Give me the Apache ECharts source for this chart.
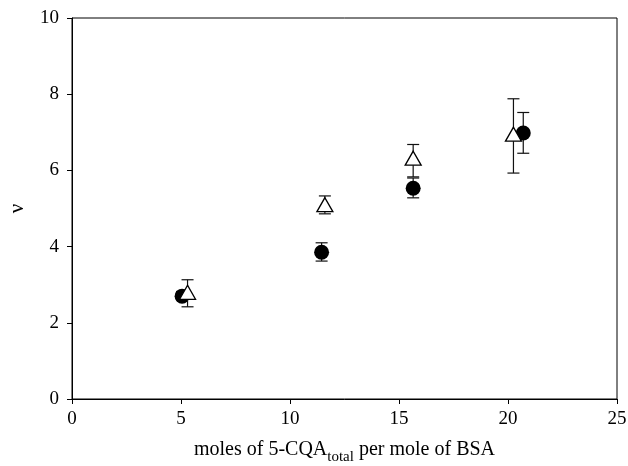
<!DOCTYPE html>
<html>
<head>
<meta charset="utf-8">
<script src="https://cdn.jsdelivr.net/npm/echarts@6/dist/echarts.min.js"></script>
<style>
  html, body { margin: 0; padding: 0; background: #fff; }
  #chart { width: 628px; height: 466px; }
</style>
</head>
<body>
<div id="chart"></div>
<script>
// filled circles
const circleX = [5.05, 11.45, 15.65, 20.7]
const circleY = [2.7, 3.85, 5.53, 6.98]
const circleLow = [2.6, 3.62, 5.28, 6.45]
const circleHigh = [2.82, 4.1, 5.8, 7.52]

// open triangles
const triX = [5.3, 11.6, 15.65, 20.25]
const triY = [2.8, 5.1, 6.32, 6.95]
const triLow = [2.42, 4.86, 5.83, 5.93]
const triHigh = [3.13, 5.33, 6.68, 7.88]

const xTicks = [0, 5, 10, 15, 20, 25]
const yTicks = [0, 2, 4, 6, 8, 10]

const font = 'Liberation Serif'

function errorBars(xs, lo, hi) {
  return {
    type: 'custom',
    data: xs.map((x, i) => [x, lo[i], hi[i]]),
    z: 1,
    renderItem: (params, api) => {
      const x = api.value(0)
      const pLo = api.coord([x, api.value(1)])
      const pHi = api.coord([x, api.value(2)])
      const w = 6
      const style = { stroke: '#111', lineWidth: 1.2 }
      return {
        type: 'group',
        children: [
          { type: 'line', shape: { x1: pLo[0], y1: pLo[1], x2: pHi[0], y2: pHi[1] }, style },
          { type: 'line', shape: { x1: pLo[0] - w, y1: pLo[1], x2: pLo[0] + w, y2: pLo[1] }, style },
          { type: 'line', shape: { x1: pHi[0] - w, y1: pHi[1], x2: pHi[0] + w, y2: pHi[1] }, style }
        ]
      }
    }
  }
}

const chart = echarts.init(document.getElementById('chart'))

chart.setOption({
  animation: false,
  backgroundColor: '#fff',
  grid: {
    left: 72, right: 11, top: 18, bottom: 67,
    containLabel: false,
    outerBoundsMode: 'none',
    show: true, borderColor: '#000', borderWidth: 1
  },
  xAxis: {
    type: 'value',
    min: xTicks[0], max: xTicks[xTicks.length - 1], interval: 5,
    name: '{a|moles of 5-CQA}{s|total}{a| per mole of BSA}',
    nameLocation: 'middle',
    nameGap: 41,
    nameTextStyle: {
      rich: {
        a: { fontFamily: font, fontSize: 20, color: '#000', verticalAlign: 'bottom' },
        s: { fontFamily: font, fontSize: 15, color: '#000', verticalAlign: 'bottom', padding: [0, 0, -5, 0] }
      }
    },
    axisLine: { lineStyle: { color: '#000', width: 1 } },
    axisTick: { inside: false, length: 5, lineStyle: { color: '#000' } },
    axisLabel: { fontFamily: font, fontSize: 19, color: '#000', margin: 11 },
    splitLine: { show: false }
  },
  yAxis: {
    type: 'value',
    min: yTicks[0], max: yTicks[yTicks.length - 1], interval: 2,
    name: 'ν',
    nameLocation: 'middle',
    nameGap: 44,
    nameTextStyle: { fontFamily: font, fontSize: 21, color: '#000' },
    axisLine: { show: true, lineStyle: { color: '#000', width: 1 } },
    axisTick: { show: true, inside: false, length: 5, lineStyle: { color: '#000' } },
    axisLabel: { fontFamily: font, fontSize: 19, color: '#000', margin: 13 },
    splitLine: { show: false }
  },
  series: [
    errorBars(circleX, circleLow, circleHigh),
    {
      type: 'scatter',
      z: 2,
      symbol: 'circle',
      symbolSize: 15,
      data: circleX.map((x, i) => [x, circleY[i]]),
      itemStyle: { color: '#000', opacity: 1 }
    },
    Object.assign(errorBars(triX, triLow, triHigh), { z: 3 }),
    {
      type: 'scatter',
      z: 4,
      symbol: 'triangle',
      symbolSize: [16, 14],
      data: triX.map((x, i) => [x, triY[i]]),
      itemStyle: { color: '#fff', borderColor: '#000', borderWidth: 1.3, opacity: 1 }
    }
  ]
})
</script>
</body>
</html>
